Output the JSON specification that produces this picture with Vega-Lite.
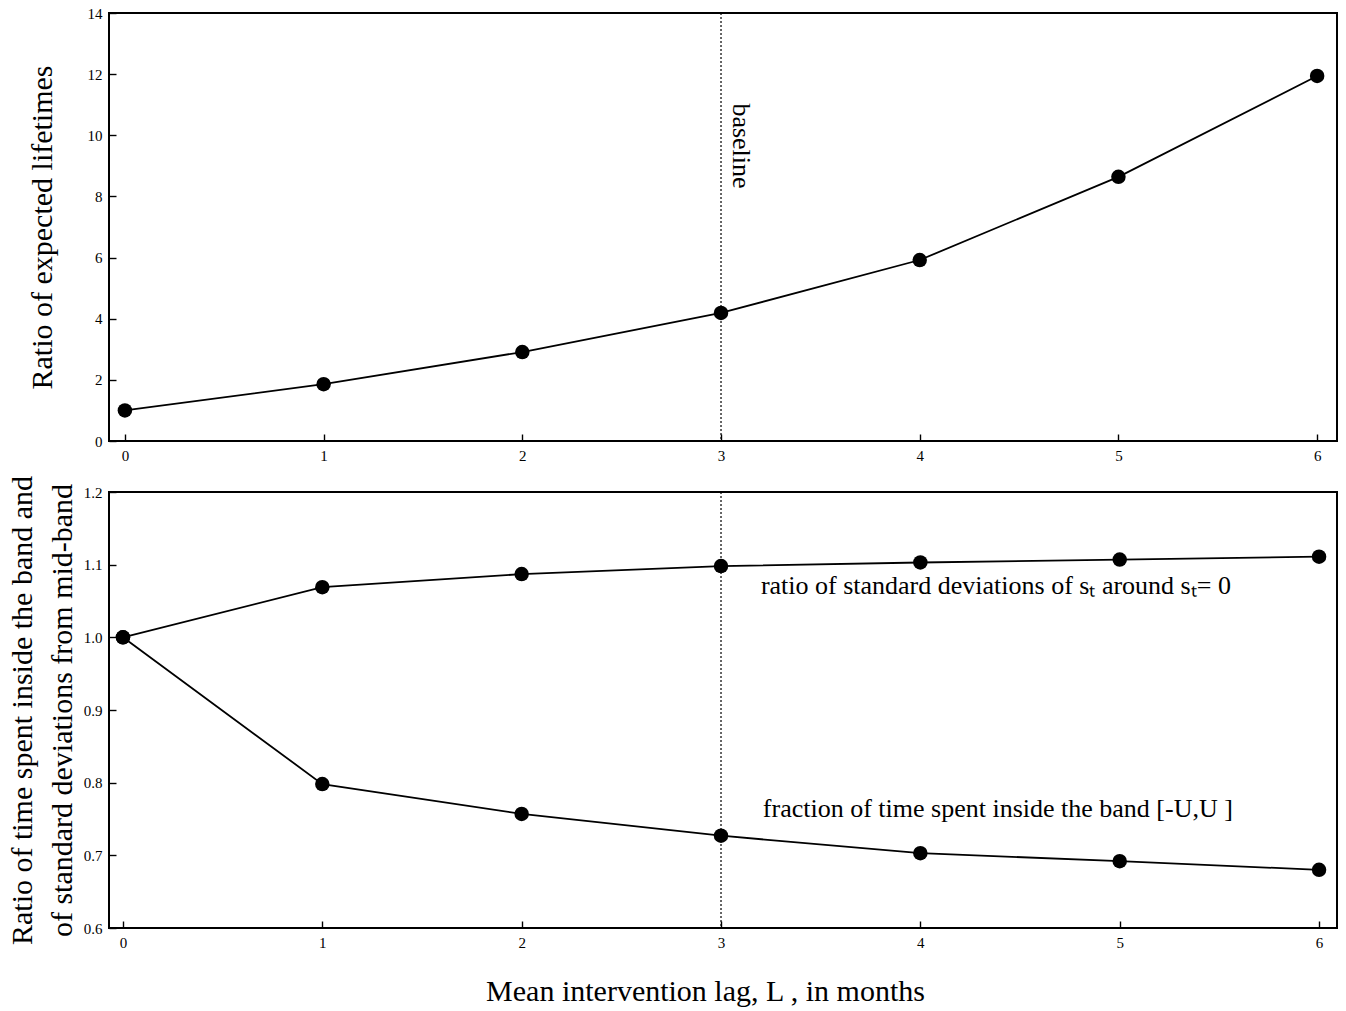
{
  "$schema": "https://vega.github.io/schema/vega-lite/v6.json",
  "padding": {"left": 6, "top": 5, "right": 4, "bottom": 4},
  "spacing": 10,
  "datasets": {
    "lifetimes": [
      {"lag": 0, "ratio": 1.0},
      {"lag": 1, "ratio": 1.86},
      {"lag": 2, "ratio": 2.91},
      {"lag": 3, "ratio": 4.19},
      {"lag": 4, "ratio": 5.92},
      {"lag": 5, "ratio": 8.64},
      {"lag": 6, "ratio": 11.94}
    ],
    "band": [
      {"lag": 0, "series": "sd", "ratio": 1.0},
      {"lag": 1, "series": "sd", "ratio": 1.069},
      {"lag": 2, "series": "sd", "ratio": 1.087},
      {"lag": 3, "series": "sd", "ratio": 1.098},
      {"lag": 4, "series": "sd", "ratio": 1.103},
      {"lag": 5, "series": "sd", "ratio": 1.107},
      {"lag": 6, "series": "sd", "ratio": 1.111},
      {"lag": 0, "series": "time", "ratio": 1.0},
      {"lag": 1, "series": "time", "ratio": 0.798},
      {"lag": 2, "series": "time", "ratio": 0.757},
      {"lag": 3, "series": "time", "ratio": 0.727},
      {"lag": 4, "series": "time", "ratio": 0.703},
      {"lag": 5, "series": "time", "ratio": 0.692},
      {"lag": 6, "series": "time", "ratio": 0.68}
    ],
    "baseline": [{"lag": 3, "label": "baseline", "y": 9.65}],
    "notes": [
      {"lag": 3.2, "ratio": 1.06, "label": "ratio of standard deviations of sₜ around sₜ= 0"},
      {"lag": 3.21, "ratio": 0.753, "label": "fraction of time spent inside the band [-U,U ]"}
    ]
  },
  "vconcat": [
    {
      "width": 1228,
      "height": 428,
      "layer": [
        {
          "data": {"name": "baseline"},
          "mark": {"type": "rule", "strokeDash": [2, 2], "strokeWidth": 1.2, "color": "black"},
          "encoding": {
            "x": {"field": "lag", "type": "quantitative"}
          }
        },
        {
          "data": {"name": "baseline"},
          "mark": {"type": "text", "angle": 90, "fontSize": 26, "font": "Liberation Serif", "dy": -20, "color": "black"},
          "encoding": {
            "x": {"field": "lag", "type": "quantitative"},
            "y": {"field": "y", "type": "quantitative"},
            "text": {"field": "label"}
          }
        },
        {
          "data": {"name": "lifetimes"},
          "mark": {"type": "line", "color": "black", "strokeWidth": 1.8},
          "encoding": {
            "x": {"field": "lag", "type": "quantitative"},
            "y": {"field": "ratio", "type": "quantitative"}
          }
        },
        {
          "data": {"name": "lifetimes"},
          "mark": {"type": "point", "filled": true, "color": "black", "size": 210, "opacity": 1},
          "encoding": {
            "x": {
              "field": "lag",
              "type": "quantitative",
              "scale": {"domain": [-0.08, 6.1], "nice": false, "zero": false},
              "axis": {"values": [0, 1, 2, 3, 4, 5, 6], "format": "d", "title": null}
            },
            "y": {
              "field": "ratio",
              "type": "quantitative",
              "scale": {"domain": [0, 14], "nice": false},
              "axis": {
                "values": [0, 1, 2, 3, 4, 5, 6, 7, 8, 9, 10, 11, 12, 13, 14],
                "labelExpr": "datum.value % 2 ? '' : datum.label",
                "title": "Ratio of expected lifetimes",
                "titlePadding": 30
              }
            }
          }
        }
      ]
    },
    {
      "width": 1228,
      "height": 436,
      "layer": [
        {
          "data": {"name": "baseline"},
          "mark": {"type": "rule", "strokeDash": [2, 2], "strokeWidth": 1.2, "color": "black"},
          "encoding": {
            "x": {"field": "lag", "type": "quantitative"}
          }
        },
        {
          "data": {"name": "band"},
          "mark": {"type": "line", "color": "black", "strokeWidth": 1.8},
          "encoding": {
            "x": {"field": "lag", "type": "quantitative"},
            "y": {"field": "ratio", "type": "quantitative"},
            "detail": {"field": "series"}
          }
        },
        {
          "data": {"name": "band"},
          "mark": {"type": "point", "filled": true, "color": "black", "size": 210, "opacity": 1},
          "encoding": {
            "x": {
              "field": "lag",
              "type": "quantitative",
              "scale": {"domain": [-0.07, 6.09], "nice": false, "zero": false},
              "axis": {"values": [0, 1, 2, 3, 4, 5, 6], "format": "d", "title": "Mean intervention lag, L , in months", "titlePadding": 26, "titleX": 596}
            },
            "y": {
              "field": "ratio",
              "type": "quantitative",
              "scale": {"domain": [0.6, 1.2], "nice": false, "zero": false},
              "axis": {
                "values": [0.6, 0.65, 0.7, 0.75, 0.8, 0.85, 0.9, 0.95, 1.0, 1.05, 1.1, 1.15, 1.2],
                "labelExpr": "round(datum.value * 100) % 10 ? '' : format(datum.value, '.1f')",
                "title": ["Ratio of time spent inside the band and", "of standard deviations from mid-band"],
                "titleLineHeight": 40,
                "titlePadding": 6
              }
            }
          }
        },
        {
          "data": {"name": "notes"},
          "mark": {"type": "text", "align": "left", "baseline": "alphabetic", "fontSize": 26, "font": "Liberation Serif", "color": "black"},
          "encoding": {
            "x": {"field": "lag", "type": "quantitative"},
            "y": {"field": "ratio", "type": "quantitative"},
            "text": {"field": "label"}
          }
        }
      ]
    }
  ],
  "config": {
    "font": "Liberation Serif",
    "view": {"stroke": "black", "strokeWidth": 2},
    "axis": {
      "zindex": 1,
      "grid": false,
      "domain": false,
      "ticks": true,
      "offset": -7,
      "tickSize": 7,
      "tickColor": "black",
      "tickWidth": 1.4,
      "labelColor": "black",
      "labelFontSize": 15,
      "labelPadding": 7,
      "titleFont": "Liberation Serif",
      "titleFontSize": 30,
      "titleFontWeight": "normal",
      "titleColor": "black"
    }
  }
}
